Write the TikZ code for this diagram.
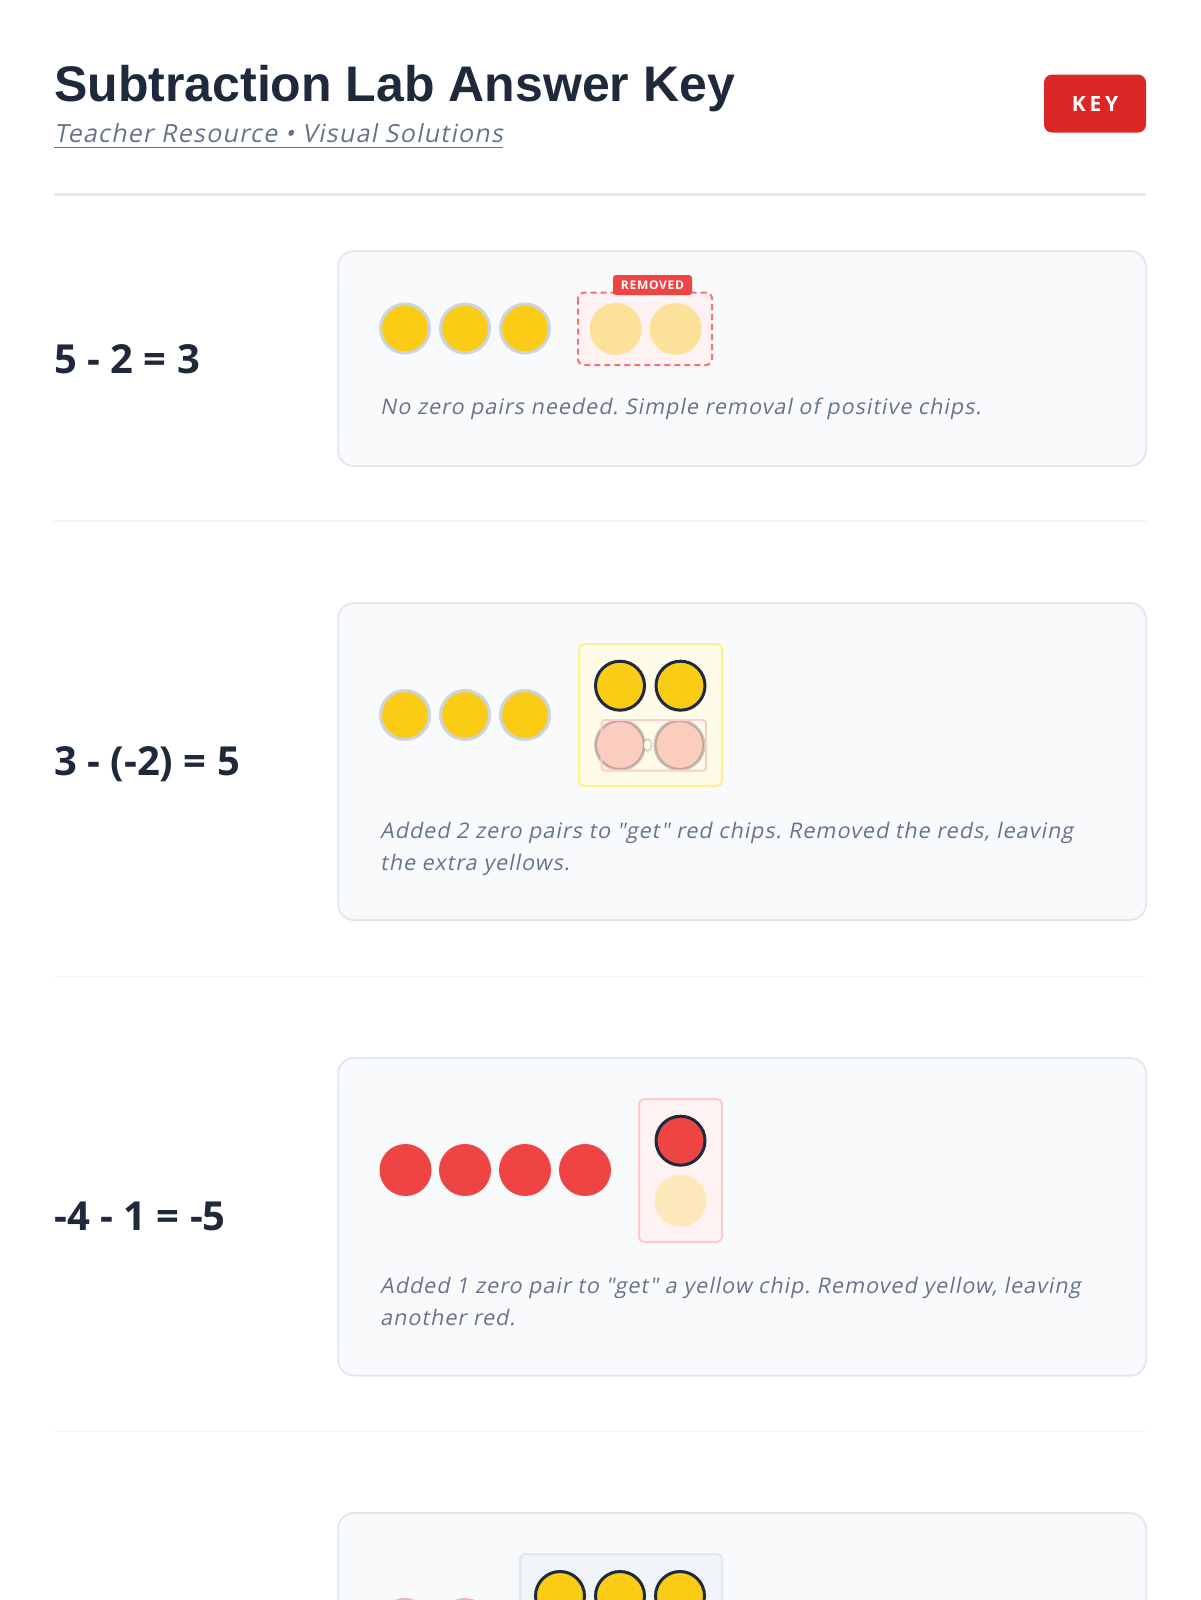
\documentclass[tikz,border=0pt]{standalone}
\usepackage{fontspec}
\setmainfont{Open Sans}
\newfontfamily\headfont{Liberation Sans}
\newfontfamily\notefont{Open Sans}[FakeSlant=0.2, Ligatures=TeXOff]
\usetikzlibrary{positioning}
\frenchspacing

\definecolor{ink}{HTML}{1E293B}
\definecolor{slate}{HTML}{64748B}
\definecolor{ruleline}{HTML}{E2E8F0}
\definecolor{faint}{HTML}{F1F5F9}
\definecolor{cardbg}{HTML}{F8FAFC}
\definecolor{chipyellow}{HTML}{FACC15}
\definecolor{chipring}{HTML}{CBD5E1}
\definecolor{chipred}{HTML}{EF4444}
\definecolor{keyred}{HTML}{DC2626}
\definecolor{dashred}{HTML}{F87171}
\definecolor{roseback}{HTML}{FEF2F2}
\definecolor{roseline}{HTML}{FECACA}
\definecolor{creamback}{HTML}{FEFCE8}
\definecolor{creamline}{HTML}{FEF08A}

\tikzset{
  card/.style={fill=cardbg, draw=ruleline, line width=2pt, rounded corners=16pt},
  chip/.style={circle, inner sep=0pt, minimum size=49pt, line width=3pt},
  yellowchip/.style={chip, fill=chipyellow, draw=chipring},
  redchip/.style={chip, fill=chipred, minimum size=52pt},
  pairyellow/.style={chip, fill=chipyellow, draw=ink},
  pairred/.style={chip, fill=chipred, draw=ink},
  gonechip/.style={chip, fill=chipyellow, fill opacity=0.4, minimum size=52pt},
  eqn/.style={anchor=base west, inner sep=0pt, text=ink, font=\bfseries\fontsize{40}{48}\selectfont},
  note/.style={anchor=base west, inner sep=0pt, text=slate, font=\notefont\fontsize{21.5}{26}\selectfont\addfontfeature{LetterSpace=4.8}},
  tray/.style={line width=2pt, rounded corners=5pt}
}

\begin{document}
\begin{tikzpicture}[x=1pt,y=-1pt]
\useasboundingbox (0,0) rectangle (1200,1600);
\clip (0,0) rectangle (1200,1600);
\fill[white] (0,0) rectangle (1200,1600);

\node[anchor=base west, inner sep=0pt, text=ink, font=\headfont\bfseries\fontsize{50}{60}\selectfont] (title) at (54,102) {Subtraction Lab Answer Key};
\node[anchor=base west, inner sep=0pt, text=slate, font=\notefont\fontsize{25}{30}\selectfont\addfontfeature{LetterSpace=5}] (sub) at (54,142.5) {Teacher Resource • Visual Solutions};
\draw[slate, line width=1.5pt] ([yshift=-5pt]sub.base west) -- ([yshift=-5pt]sub.base east);
\node[fill=keyred, rounded corners=8pt, minimum width=102pt, minimum height=58pt, inner sep=0pt, text=white, font=\bfseries\fontsize{21}{24}\selectfont\addfontfeature{LetterSpace=18}] (key) at (1095,103.6) {KEY};
\draw[ruleline, line width=3pt] (54,194) -- (1146,194);

\node[eqn] (eq1) at (54,373.3) {5 - 2 = 3};
\filldraw[card] (338,251) rectangle (1146,466);
\node[yellowchip] (a1) at (405,328.5) {};
\node[yellowchip] (a2) at (465,328.5) {};
\node[yellowchip] (a3) at (525,328.5) {};
\filldraw[fill=roseback, draw=dashred, line width=2pt, dash pattern=on 6pt off 4pt, rounded corners=6pt] (578,292.7) rectangle (712,365);
\node[gonechip] (a4) at (615.7,329) {};
\node[gonechip] (a5) at (675.7,329) {};
\node[fill=chipred, rounded corners=3pt, minimum width=79pt, minimum height=20pt, inner sep=0pt, text=white, font=\bfseries\fontsize{12}{14}\selectfont\addfontfeature{LetterSpace=6}] (tag) at (652.5,285) {REMOVED};
\node[note] (n1) at (380,414) {No zero pairs needed. Simple removal of positive chips.};
\draw[faint, line width=1.5pt] (54,521) -- (1146,521);

\node[eqn] (eq2) at (54,775.5) {3 - (-2) = 5};
\filldraw[card] (338,603) rectangle (1146,920);
\node[yellowchip] (b1) at (405,715) {};
\node[yellowchip] (b2) at (465,715) {};
\node[yellowchip] (b3) at (525,715) {};
\filldraw[tray, fill=creamback, draw=creamline] (579,644) rectangle (722,786);
\node[pairyellow] (b4) at (620,685.7) {};
\node[pairyellow] (b5) at (680.5,685.7) {};
\node[pairred, opacity=0.25] (b6) at (620,745) {};
\node[pairred, opacity=0.25] (b7) at (679.5,745) {};
\filldraw[fill=creamback, draw=ink, draw opacity=0.2, line width=1.5pt] (647.5,745) ellipse (4pt and 6pt);
\draw[roseline, line width=2pt, rounded corners=3pt] (601.7,720) rectangle (706,770.7);
\node[note] (n2) at (380,838) {Added 2 zero pairs to "get" red chips. Removed the reds, leaving};
\node[note] (n2b) at (380,870) {the extra yellows.};
\draw[faint, line width=1.5pt] (54,976.5) -- (1146,976.5);

\node[eqn] (eq3) at (54,1230.7) {-4 - 1 = -5};
\filldraw[card] (338,1058) rectangle (1146,1375.5);
\node[redchip] (c1) at (405.5,1170) {};
\node[redchip] (c2) at (465,1170) {};
\node[redchip] (c3) at (525,1170) {};
\node[redchip] (c4) at (585,1170) {};
\filldraw[tray, fill=roseback, draw=roseline] (639,1099) rectangle (722,1242);
\node[pairred] (c5) at (680.5,1140.7) {};
\node[gonechip, fill opacity=0.25] (c6) at (680.5,1200.7) {};
\node[note] (n3) at (380,1293) {Added 1 zero pair to "get" a yellow chip. Removed yellow, leaving};
\node[note] (n3b) at (380,1325) {another red.};
\draw[faint, line width=1.5pt] (54,1431.6) -- (1146,1431.6);

\filldraw[card] (338,1513) rectangle (1146,1700);
\node[redchip, opacity=0.4] (d1) at (405,1624) {};
\node[redchip, opacity=0.4] (d2) at (465,1624) {};
\filldraw[tray, fill=faint, draw=ruleline] (520,1554) rectangle (722,1700);
\node[pairyellow] (d3) at (560,1596) {};
\node[pairyellow] (d4) at (620,1596) {};
\node[pairyellow] (d5) at (680,1596) {};

\end{tikzpicture}
\end{document}
